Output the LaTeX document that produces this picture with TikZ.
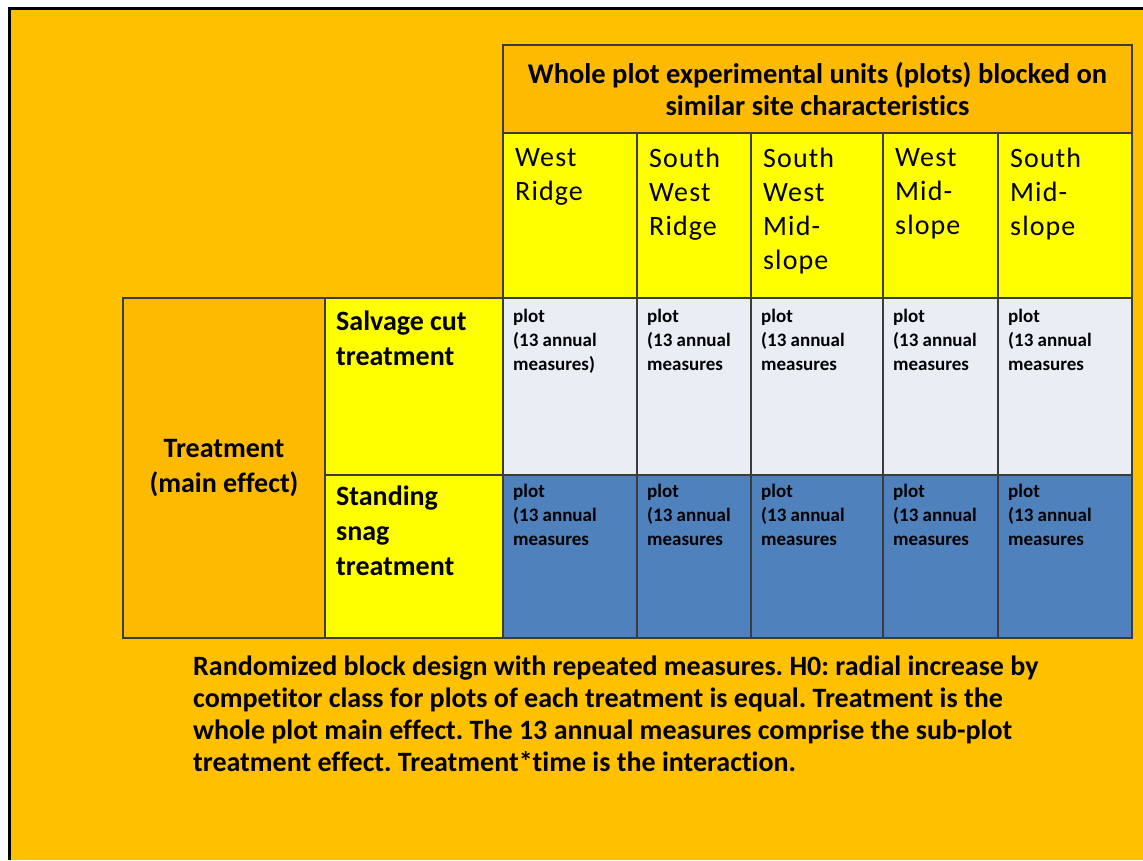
\documentclass[tikz,border=0pt]{standalone}
\usepackage{fontspec}
\setmainfont{Carlito}[Ligatures=NoCommon]
\newfontfamily\sitefont{Carlito}[Ligatures=NoCommon,LetterSpace=4]
\usetikzlibrary{positioning}

\definecolor{bgorange}{HTML}{FFC000}
\definecolor{headorange}{HTML}{FDBA00}
\definecolor{siteyellow}{HTML}{FFFF00}
\definecolor{cutgrey}{HTML}{E9EDF4}
\definecolor{snagblue}{HTML}{4F81BD}
\definecolor{gridline}{HTML}{3C3C3C}

\begin{document}
\frenchspacing
\begin{tikzpicture}[x=1pt,y=-1pt,label distance=0pt]

			\tikzstyle{cell}=[rectangle,draw=gridline,line width=2pt,inner sep=0pt,outer sep=0pt]
			\tikzstyle{head}=[cell,fill=headorange,align=center,font=\bfseries\fontsize{28.5}{32}\selectfont]
			\tikzstyle{site}=[cell,fill=siteyellow,minimum height=165pt]
			\tikzstyle{cut}=[cell,fill=cutgrey,minimum height=177pt]
			\tikzstyle{snag}=[cell,fill=snagblue,minimum height=163pt]
			\tikzstyle{sitetag}=[anchor=north west,align=left,inner sep=0pt,xshift=12pt,yshift=-15pt,font=\sitefont\fontsize{28}{34}\selectfont]
			\tikzstyle{plottag}=[anchor=north west,align=left,inner sep=0pt,xshift=10pt,yshift=-11pt,font=\bfseries\fontsize{19}{24}\selectfont]
			\tikzstyle{rowtag}=[anchor=north west,align=left,inner sep=0pt,xshift=11pt,yshift=-13pt,font=\bfseries\fontsize{28}{35}\selectfont]

			% page and frame
			\useasboundingbox (0,0) rectangle (1143,860);
			\fill[white] (0,0) rectangle (1143,860);
			\fill[bgorange] (9,8) rectangle (1143,860);
			\draw[line width=3pt] (9,860) -- (9,8) -- (1143,8);

			% header
			\node[head,anchor=north west,minimum width=629pt,minimum height=88pt] (W) at (503,45) {Whole plot experimental units (plots) blocked on\\similar site characteristics};

			% sites
			\node[site,anchor=north west,minimum width=134pt,label={[sitetag]north west:{West\\Ridge}}] (S1) at (503,133) {};
			\node[site,minimum width=114pt,label={[sitetag]north west:{South\\West\\Ridge}}] (S2) [right=0pt of S1] {};
			\node[site,minimum width=132pt,label={[sitetag]north west:{South\\West\\Mid-\\slope}}] (S3) [right=0pt of S2] {};
			\node[site,minimum width=115pt,label={[sitetag]north west:{West\\Mid-\\slope}}] (S4) [right=0pt of S3] {};
			\node[site,minimum width=134pt,label={[sitetag]north west:{South\\Mid-\\slope}}] (S5) [right=0pt of S4] {};

			% salvage cut plots
			\node[cut,minimum width=134pt,label={[plottag]north west:{plot\\(13 annual\\measures)}}] (C1) [below=0pt of S1] {};
			\node[cut,minimum width=114pt,label={[plottag]north west:{plot\\(13 annual\\measures}}] (C2) [below=0pt of S2] {};
			\node[cut,minimum width=132pt,label={[plottag]north west:{plot\\(13 annual\\measures}}] (C3) [below=0pt of S3] {};
			\node[cut,minimum width=115pt,label={[plottag]north west:{plot\\(13 annual\\measures}}] (C4) [below=0pt of S4] {};
			\node[cut,minimum width=134pt,label={[plottag]north west:{plot\\(13 annual\\measures}}] (C5) [below=0pt of S5] {};

			% standing snag plots
			\node[snag,minimum width=134pt,label={[plottag,yshift=2pt]north west:{plot\\(13 annual\\measures}}] (D1) [below=0pt of C1] {};
			\node[snag,minimum width=114pt,label={[plottag,yshift=2pt]north west:{plot\\(13 annual\\measures}}] (D2) [below=0pt of C2] {};
			\node[snag,minimum width=132pt,label={[plottag,yshift=2pt]north west:{plot\\(13 annual\\measures}}] (D3) [below=0pt of C3] {};
			\node[snag,minimum width=115pt,label={[plottag,yshift=2pt]north west:{plot\\(13 annual\\measures}}] (D4) [below=0pt of C4] {};
			\node[snag,minimum width=134pt,label={[plottag,yshift=2pt]north west:{plot\\(13 annual\\measures}}] (D5) [below=0pt of C5] {};

			% treatments
			\node[site,anchor=north west,minimum width=178pt,minimum height=177pt,label={[rowtag]north west:{Salvage cut\\treatment}}] (TC) at (325,298) {};
			\node[site,minimum width=178pt,minimum height=163pt,label={[rowtag,yshift=2pt]north west:{Standing\\snag\\treatment}}] (TS) [below=0pt of TC] {};
			\node[cell,fill=headorange,anchor=north west,minimum width=202pt,minimum height=340pt,align=center,font=\bfseries\fontsize{28}{35}\selectfont] (T) at (123,298) {Treatment\\(main effect)};

			% hypothesis note
			\node[anchor=north west,align=left,inner sep=0pt,font=\bfseries\fontsize{28}{32}\selectfont] (H0) at (193,656) {Randomized block design with repeated measures. H0: radial increase by\\competitor class for plots of each treatment is equal. Treatment is the\\whole plot main effect. The 13 annual measures comprise the sub-plot\\treatment effect. Treatment*time is the interaction.};

		\end{tikzpicture}
\end{document}
